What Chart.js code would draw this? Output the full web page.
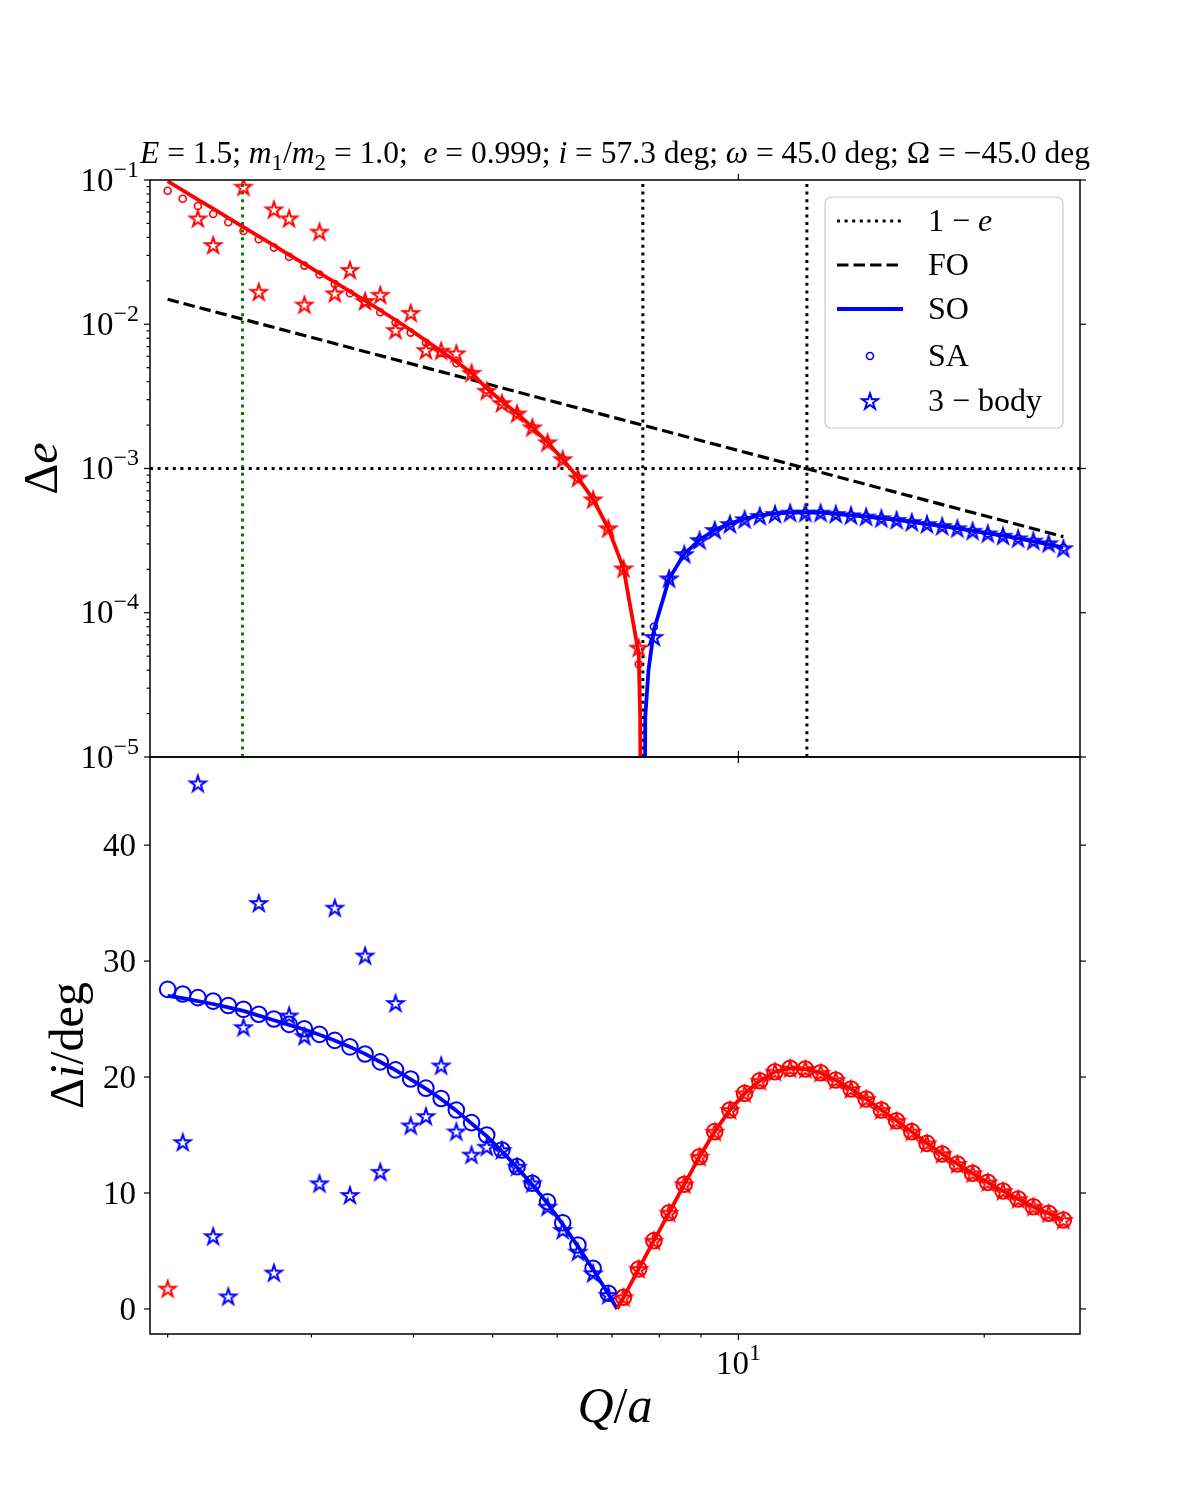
<!DOCTYPE html>
<html>
<head>
<meta charset="utf-8">
<script src="https://cdn.jsdelivr.net/npm/chart.js@4.4.1/dist/chart.umd.min.js"></script>
<style>
  body { margin: 0; background: #fff; }
  canvas { display: block; }
</style>
</head>
<body>
<canvas id="chart" width="1200" height="1500"></canvas>
<script>
const qa = [2.000, 2.087, 2.178, 2.274, 2.373, 2.477, 2.586, 2.699, 2.817, 2.941,
  3.069, 3.204, 3.344, 3.490, 3.643, 3.803, 3.969, 4.143, 4.325, 4.514,
  4.712, 4.918, 5.133, 5.358, 5.593, 5.838, 6.093, 6.360, 6.638, 6.929,
  7.233, 7.549, 7.880, 8.225, 8.585, 8.961, 9.353, 9.763, 10.175, 10.621,
  11.086, 11.571, 12.078, 12.607, 13.159, 13.735, 14.337, 14.964, 15.620, 16.304,
  17.018, 17.763, 18.541, 19.353, 20.200, 21.085, 22.008, 22.972, 23.978, 25.000];

// Δe, signed: positive is drawn red, negative blue (plotted as |Δe|)
const deSO = [0.0981, 0.0848, 0.0732, 0.0633, 0.0546, 0.0471, 0.0407, 0.0352, 0.0303, 0.0262,
  0.0226, 0.0196, 0.0169, 0.0146, 0.0125, 0.0107, 0.0091, 0.0077, 0.0065, 0.0055,
  0.0046, 0.0036, 0.00292, 0.00241, 0.00193, 0.00152, 0.00116, 0.000864, 0.000611, 0.000385,
  0.000203, 0.000052, -0.000076, -0.000172, -0.000256, -0.00032, -0.000375, -0.000415, -0.000448, -0.000474,
  -0.000487, -0.000494, -0.000494, -0.000494, -0.000484, -0.000474, -0.000464, -0.000452, -0.00044, -0.000426,
  -0.000412, -0.000399, -0.000385, -0.00037, -0.000355, -0.000342, -0.000328, -0.000313, -0.000298, -0.000283];
// extra SO points where the curve dives through zero
const deCuspQ = [7.58, 7.638, 7.638, 7.69, 7.76];
const deCuspSO = [1.9e-5, 1e-9, -1e-9, -1.9e-5, -4.0e-5];

const deSA = [0.0843, 0.0741, 0.0660, 0.0581, 0.0509, 0.0443, 0.0388, 0.0340, 0.0294, 0.0255,
  0.0221, 0.0190, 0.0164, 0.0143, 0.0121, 0.0103, 0.00875, 0.00745, 0.00635, 0.00536,
  0.00455, 0.00352, 0.00290, 0.00241, 0.00193, 0.00152, 0.00116, 0.000864, 0.000611, 0.000385,
  0.000203, 0.000044, -0.000080, -0.000172, -0.000256, -0.00032, -0.000375, -0.000415, -0.000448, -0.000474,
  -0.000487, -0.000494, -0.000494, -0.000494, -0.000484, -0.000474, -0.000464, -0.000452, -0.00044, -0.000426,
  -0.000412, -0.000399, -0.000385, -0.00037, -0.000355, -0.000342, -0.000328, -0.000313, -0.000298, -0.000283];

const de3b = [null, null, 0.0542, 0.0354, null, 0.0899, 0.0168, 0.0626, 0.0542, 0.0137,
  0.0439, 0.0164, 0.0238, 0.0145, 0.0160, 0.00912, 0.0120, 0.00662, 0.00656, 0.00629,
  0.00461, 0.00346, 0.00284, 0.00241, 0.00193, 0.00152, 0.00116, 0.000864, 0.000611, 0.000385,
  0.000203, 0.0000573, -0.000068, -0.000173, -0.000255, -0.000319, -0.000375, -0.000412, -0.000445, -0.000469,
  -0.000484, -0.000494, -0.000494, -0.000494, -0.000484, -0.000474, -0.000464, -0.000452, -0.00044, -0.000426,
  -0.000412, -0.000399, -0.000385, -0.00037, -0.000355, -0.000342, -0.000328, -0.000316, -0.000303, -0.00028];

// first order estimate (straight in log-log)
const foQ = [2, 25];
const foDe = [0.0149, 0.000337];
const oneMinusE = 1e-3;
const dottedQ = [7.638, 12.13];
const greenQ = 2.47;

// Δi in degrees, signed the same way
const diSO = [-27.0, -26.8, -26.55, -26.3, -26.0, -25.7, -25.3, -24.9, -24.5, -24.1,
  -23.65, -23.15, -22.6, -22.0, -21.3, -20.6, -19.8, -19.0, -18.1, -17.1,
  -16.0, -14.9, -13.6, -12.2, -10.7, -9.1, -7.3, -5.4, -3.4, -1.3,
  1.0, 3.45, 5.89, 8.30, 10.75, 13.13, 15.29, 17.16, 18.59, 19.68,
  20.46, 20.75, 20.69, 20.37, 19.74, 18.97, 18.10, 17.16, 16.23, 15.29,
  14.28, 13.36, 12.50, 11.70, 10.92, 10.17, 9.48, 8.82, 8.25, 7.67];
const diCuspQ = [7.105];
const diCuspSO = [0];

const diSA = [-27.56, -27.16, -26.85, -26.55, -26.17, -25.84, -25.41, -25.01, -24.54, -24.17,
  -23.68, -23.16, -22.60, -21.99, -21.31, -20.62, -19.83, -19.04, -18.15, -17.16,
  -16.07, -15.0, -13.71, -12.27, -10.84, -9.25, -7.44, -5.52, -3.51, -1.35,
  1.01, 3.45, 5.89, 8.30, 10.75, 13.13, 15.29, 17.16, 18.59, 19.68,
  20.46, 20.75, 20.69, 20.37, 19.74, 18.97, 18.10, 17.16, 16.23, 15.29,
  14.28, 13.36, 12.50, 11.70, 10.92, 10.17, 9.48, 8.82, 8.25, 7.67];

const di3b = [1.76, -14.39, -45.33, -6.28, -1.09, -24.30, -35.01, -3.14, -25.31, -23.53,
  -10.84, -34.61, -9.83, -30.48, -11.83, -26.39, -15.83, -16.63, -21.0, -15.31,
  -13.31, -13.99, -13.7, -12.27, -10.83, -8.82, -6.81, -4.94, -3.08, -1.21,
  1.01, 3.45, 5.89, 8.30, 10.75, 13.13, 15.29, 17.16, 18.59, 19.68,
  20.46, 20.75, 20.69, 20.37, 19.74, 18.97, 18.10, 17.16, 16.23, 15.29,
  14.28, 13.36, 12.50, 11.70, 10.92, 10.17, 9.48, 8.82, 8.25, 7.67];

// axis limits and ticks
const xMin = 1.903, xMax = 26.2;
const deMin = 1e-5, deMax = 1e-1;
const diMin = -2.16, diMax = 47.6;
const xMajor = [10];
const xMinor = [2, 3, 4, 5, 6, 7, 8, 9, 20];
const deExp = [-5, -4, -3, -2, -1];
const diTicks = [0, 10, 20, 30, 40];

const RED = '#ff0000', BLUE = '#0000ff', GREEN = '#008000';
const FAMILY = '"Liberation Serif", "DejaVu Serif", serif';
const DOTS = [3, 4.6], DASH = [11.5, 5];

const signCol = v => (v > 0 ? RED : BLUE);

function pts(xs, ys) {
  const out = [];
  xs.forEach((x, i) => { if (ys[i] !== null) out.push({ x: x, y: Math.abs(ys[i]), s: ys[i] }); });
  return out;
}
function linePts(xs, ys, cx, cy) {
  return pts(xs, ys).concat(pts(cx, cy)).sort((a, b) => a.x - b.x);
}
// colour a segment by the endpoint farther from zero
function segCol(arr) {
  return c => {
    const a = arr[c.p0DataIndex].s, b = arr[c.p1DataIndex].s;
    return signCol(Math.abs(a) >= Math.abs(b) ? a : b);
  };
}

function starImage(color) {
  const c = document.createElement('canvas');
  c.width = c.height = 22;
  const g = c.getContext('2d');
  g.beginPath();
  for (let k = 0; k < 10; k++) {
    const r = k % 2 ? 8.4 * 0.382 : 8.4;
    const a = -Math.PI / 2 + k * Math.PI / 5;
    const px = 11 + r * Math.cos(a), py = 11.8 + r * Math.sin(a);
    if (k) g.lineTo(px, py); else g.moveTo(px, py);
  }
  g.closePath();
  g.strokeStyle = color;
  g.lineWidth = 2;
  g.stroke();
  return c;
}
const starRed = starImage(RED), starBlue = starImage(BLUE);
const starStyle = c => (c.raw && c.raw.s > 0 ? starRed : starBlue);
const ringColor = c => (c.raw && c.raw.s > 0 ? RED : BLUE);

const soTop = linePts(qa, deSO, deCuspQ, deCuspSO);
const soBot = linePts(qa, diSO, diCuspQ, diCuspSO);

function font(size, italic) { return (italic ? 'italic ' : '') + size + 'px ' + FAMILY; }

// draw text made of [text, kind] parts, kind: 'i' italic, 'sup', 'sub'
function drawRich(ctx, parts, x, y, size, align) {
  const items = parts.map(([t, k]) => {
    const small = k === 'sup' || k === 'sub';
    const f = font(small ? Math.round(size * 0.74) : size, k === 'i');
    ctx.font = f;
    return { t: t, f: f, w: ctx.measureText(t).width, dy: k === 'sup' ? -size * 0.42 : (k === 'sub' ? size * 0.22 : 0) };
  });
  const total = items.reduce((s, it) => s + it.w, 0);
  let cx = align === 'center' ? x - total / 2 : (align === 'right' ? x - total : x);
  ctx.textAlign = 'left';
  ctx.textBaseline = 'alphabetic';
  for (const it of items) {
    ctx.font = it.f;
    ctx.fillText(it.t, cx, y + it.dy);
    cx += it.w;
  }
  return total;
}

const decor = {
  id: 'decor',
  afterDraw(chart) {
    const ctx = chart.ctx;
    const x = chart.scales.x, yE = chart.scales.yE, yI = chart.scales.yI;
    ctx.save();
    ctx.strokeStyle = '#000';
    ctx.fillStyle = '#000';

    // panel frames
    ctx.lineWidth = 1.5;
    [yE, yI].forEach(s => ctx.strokeRect(x.left, s.top, x.right - x.left, s.bottom - s.top));

    const tick = (x0, y0, dx, dy) => {
      ctx.beginPath(); ctx.moveTo(x0, y0); ctx.lineTo(x0 + dx, y0 + dy); ctx.stroke();
    };
    ctx.lineWidth = 1.2;
    for (const s of [yE, yI]) {
      xMajor.forEach(v => { const px = x.getPixelForValue(v); tick(px, s.bottom, 0, 6); tick(px, s.top, 0, -6); });
    }
    xMinor.forEach(v => tick(x.getPixelForValue(v), yI.bottom, 0, 3.5));

    deExp.forEach(e => {
      const py = yE.getPixelForValue(Math.pow(10, e));
      tick(x.left, py, -6, 0); tick(x.right, py, 6, 0);
      if (e < -1) {
        for (let m = 2; m <= 9; m++) tick(x.left, yE.getPixelForValue(m * Math.pow(10, e)), -3.5, 0);
      }
    });
    diTicks.forEach(v => {
      const py = yI.getPixelForValue(v);
      tick(x.left, py, -6, 0); tick(x.right, py, 6, 0);
    });

    // tick labels
    const TS = 33;
    deExp.forEach(e => {
      const py = yE.getPixelForValue(Math.pow(10, e));
      drawRich(ctx, [['10'], ['\u2212' + Math.abs(e), 'sup']], 139, py + 10.5, TS, 'right');
    });
    diTicks.forEach(v => drawRich(ctx, [[String(v)]], 136, yI.getPixelForValue(v) + 11, TS, 'right'));
    xMajor.forEach(v => drawRich(ctx, [['10'], ['1', 'sup']], x.getPixelForValue(v), 1374, TS, 'center'));

    // axis titles
    const LS = 48;
    drawRich(ctx, [['Q', 'i'], ['/'], ['a', 'i']], (x.left + x.right) / 2, 1422, LS + 2, 'center');
    ctx.save();
    ctx.translate(57, (yE.top + yE.bottom) / 2);
    ctx.rotate(-Math.PI / 2);
    drawRich(ctx, [['\u0394'], ['e', 'i']], 0, 0, LS, 'center');
    ctx.restore();
    ctx.save();
    ctx.translate(83, (yI.top + yI.bottom) / 2);
    ctx.rotate(-Math.PI / 2);
    drawRich(ctx, [['\u0394'], ['i', 'i'], ['/deg']], 0, 0, LS, 'center');
    ctx.restore();

    // title
    drawRich(ctx, [['E', 'i'], [' = 1.5; '], ['m', 'i'], ['1', 'sub'], ['/'], ['m', 'i'], ['2', 'sub'],
      [' = 1.0;  '], ['e', 'i'], [' = 0.999; '], ['i', 'i'], [' = 57.3 deg; '], ['\u03c9', 'i'],
      [' = 45.0 deg; '], ['\u03a9'], [' = \u221245.0 deg']], (x.left + x.right) / 2, 163, 31.5, 'center');

    // legend
    const bx = 825, by = 197, bw = 238, bh = 231;
    ctx.beginPath();
    if (ctx.roundRect) ctx.roundRect(bx, by, bw, bh, 6); else ctx.rect(bx, by, bw, bh);
    ctx.fillStyle = 'rgba(255,255,255,0.85)';
    ctx.fill();
    ctx.strokeStyle = '#cccccc';
    ctx.lineWidth = 1.2;
    ctx.stroke();
    ctx.fillStyle = '#000';
    const rows = [221, 265, 309, 356, 401];
    const hx0 = 837, hx1 = 903, hxc = 870, tx = 928, LF = 32;
    const hline = (y, color, dash, w) => {
      ctx.save(); ctx.strokeStyle = color; ctx.lineWidth = w; ctx.setLineDash(dash);
      ctx.beginPath(); ctx.moveTo(hx0, y); ctx.lineTo(hx1, y); ctx.stroke(); ctx.restore();
    };
    hline(rows[0], '#000', DOTS, 3);
    hline(rows[1], '#000', DASH, 3.2);
    hline(rows[2], BLUE, [], 3.8);
    ctx.save(); ctx.strokeStyle = BLUE; ctx.lineWidth = 1.6;
    ctx.beginPath(); ctx.arc(hxc, rows[3], 3.5, 0, Math.PI * 2); ctx.stroke(); ctx.restore();
    ctx.drawImage(starBlue, hxc - 11, rows[4] - 11);
    drawRich(ctx, [['1 \u2212 '], ['e', 'i']], tx, rows[0] + 10, LF, 'left');
    drawRich(ctx, [['FO']], tx, rows[1] + 10, LF, 'left');
    drawRich(ctx, [['SO']], tx, rows[2] + 10, LF, 'left');
    drawRich(ctx, [['SA']], tx, rows[3] + 10, LF, 'left');
    drawRich(ctx, [['3 \u2212 body']], tx, rows[4] + 10, LF, 'left');

    ctx.restore();
  }
};

const datasets = [
  // top panel
  { label: '3-body de', data: pts(qa, de3b), yAxisID: 'yE', pointStyle: starStyle, pointRadius: 8, clip: 0 },
  { label: 'SA de', data: pts(qa, deSA), yAxisID: 'yE', pointStyle: 'circle', pointRadius: 3.5,
    pointBorderWidth: 1.6, pointBorderColor: ringColor, pointBackgroundColor: 'rgba(0,0,0,0)', clip: 0 },
  { label: 'SO de', data: soTop, yAxisID: 'yE', showLine: true, pointRadius: 0, borderWidth: 3.8,
    borderColor: RED, segment: { borderColor: segCol(soTop) }, clip: 0 },
  { label: 'FO', data: pts(foQ, foDe), yAxisID: 'yE', showLine: true, pointRadius: 0, borderWidth: 3.2,
    borderColor: '#000', borderDash: DASH, clip: 0 },
  { label: '1-e', data: pts([xMin, xMax], [oneMinusE, oneMinusE]), yAxisID: 'yE', showLine: true, pointRadius: 0,
    borderWidth: 3, borderColor: '#000', borderDash: DOTS, clip: 0 },
  ...dottedQ.map(q => ({ label: 'mark', data: pts([q, q], [deMin, deMax]), yAxisID: 'yE', showLine: true,
    pointRadius: 0, borderWidth: 3, borderColor: '#000', borderDash: DOTS, clip: 0 })),
  { label: 'green', data: pts([greenQ, greenQ], [deMin, deMax]), yAxisID: 'yE', showLine: true, pointRadius: 0,
    borderWidth: 3, borderColor: GREEN, borderDash: DOTS, clip: 0 },
  // bottom panel
  { label: '3-body di', data: pts(qa, di3b), yAxisID: 'yI', pointStyle: starStyle, pointRadius: 8, clip: 0 },
  { label: 'SA di', data: pts(qa, diSA), yAxisID: 'yI', pointStyle: 'circle', pointRadius: 7.8,
    pointBorderWidth: 2, pointBorderColor: ringColor, pointBackgroundColor: 'rgba(0,0,0,0)', clip: 0 },
  { label: 'SO di', data: soBot, yAxisID: 'yI', showLine: true, pointRadius: 0, borderWidth: 3.8,
    borderColor: BLUE, segment: { borderColor: segCol(soBot) }, clip: 0 }
];

const hidden = { display: false };
new Chart(document.getElementById('chart'), {
  type: 'scatter',
  data: { datasets: datasets },
  options: {
    responsive: false,
    animation: false,
    events: [],
    layout: { padding: { top: 180, right: 120, left: 0, bottom: 0 } },
    plugins: { legend: hidden, tooltip: { enabled: false }, title: hidden },
    scales: {
      x: { type: 'logarithmic', min: xMin, max: xMax, ticks: hidden, grid: hidden, border: hidden,
        afterFit: s => { s.height = 166; } },
      yE: { type: 'logarithmic', position: 'left', stack: 'panels', stackWeight: 1, weight: 2,
        min: deMin, max: deMax, ticks: hidden, grid: hidden, border: hidden,
        afterFit: s => { s.width = 150; } },
      yI: { type: 'linear', position: 'left', stack: 'panels', stackWeight: 1, weight: 1,
        min: diMin, max: diMax, ticks: hidden, grid: hidden, border: hidden,
        afterFit: s => { s.width = 150; } }
    }
  },
  plugins: [decor]
});
</script>
</body>
</html>
